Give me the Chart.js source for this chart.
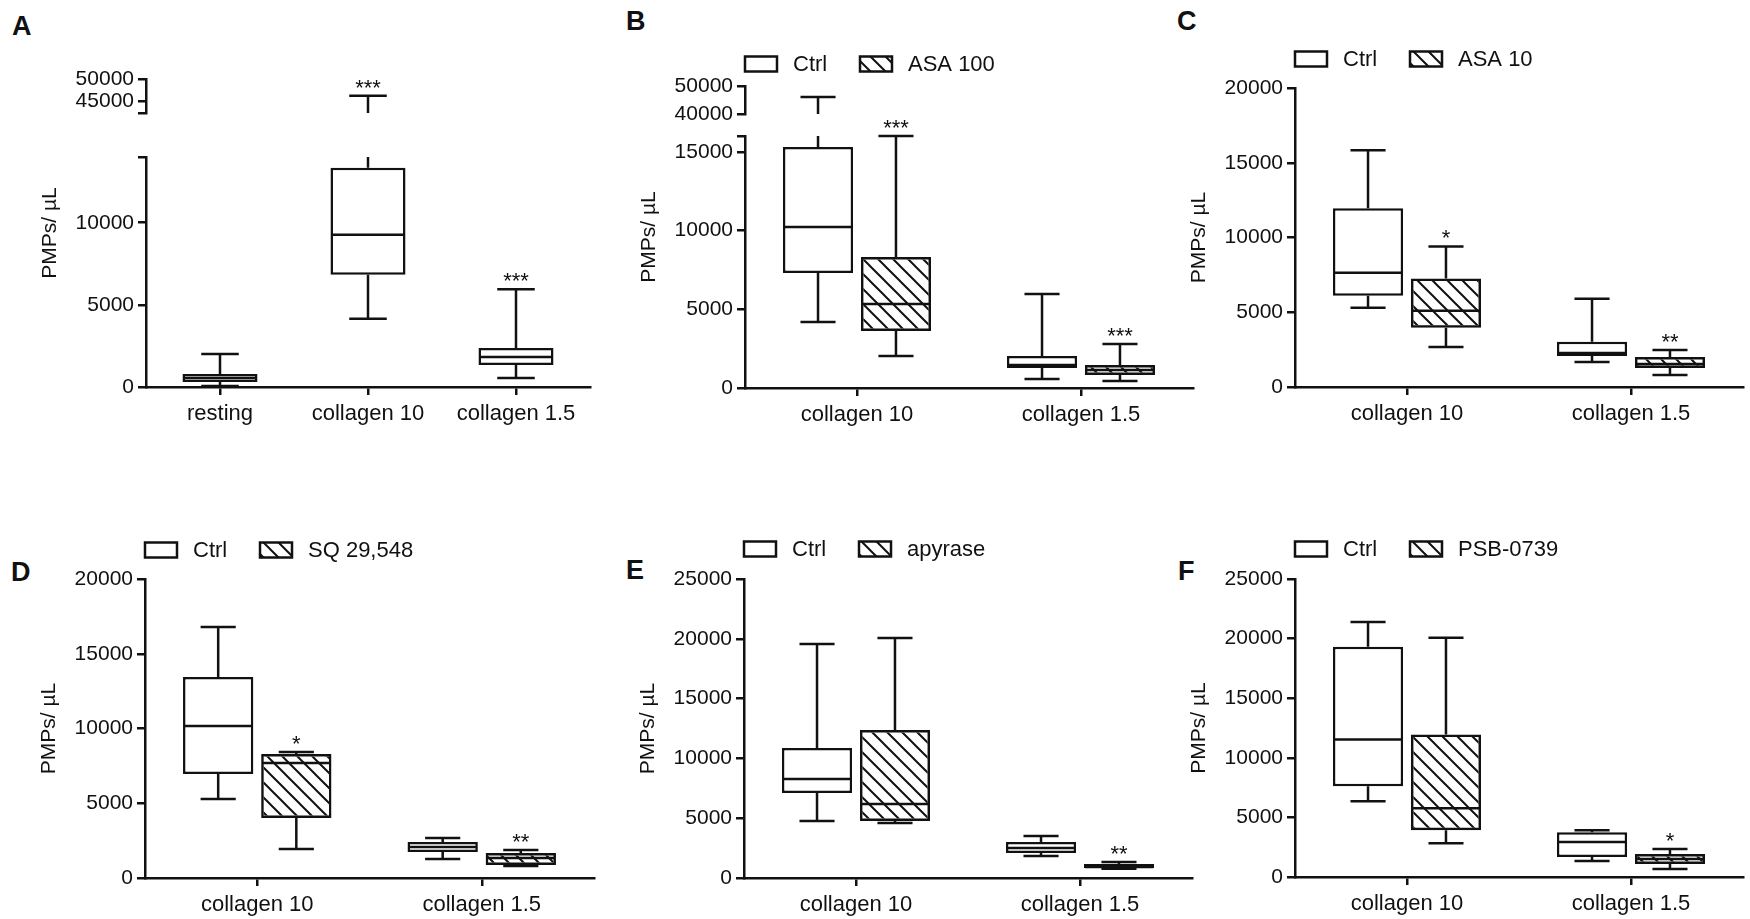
<!DOCTYPE html>
<html><head><meta charset="utf-8">
<script src="https://cdn.jsdelivr.net/npm/chart.js@4.4.1/dist/chart.umd.min.js"></script>
<style>
html,body{margin:0;padding:0;background:#fff;}
#page{position:relative;width:1750px;height:919px;overflow:hidden;background:#fff;}
#page canvas{position:absolute;}
.lbl{position:absolute;font-family:"Liberation Sans",Arial,sans-serif;font-weight:bold;font-size:27px;line-height:26px;color:#111;}
</style></head><body><div id="page">
<div class="lbl" style="left:12px;top:13px">A</div>
<div class="lbl" style="left:626px;top:8px">B</div>
<div class="lbl" style="left:1177px;top:8px">C</div>
<div class="lbl" style="left:11px;top:559px">D</div>
<div class="lbl" style="left:626px;top:557px">E</div>
<div class="lbl" style="left:1178px;top:558px">F</div>
<canvas id="cA"></canvas><canvas id="cB"></canvas><canvas id="cC"></canvas>
<canvas id="cD"></canvas><canvas id="cE"></canvas><canvas id="cF"></canvas>
</div>
<script>
// ---------------- DATA (each box: [min, q1, median, q3, max]) ----------------
const yTitle = 'PMPs/ µL';

const A_categories = ['resting', 'collagen 10', 'collagen 1.5'];
const A_ctrl = [[60, 300, 550, 790, 2010], [4150, 6830, 9270, 13350, 46300], [550, 1340, 1830, 2380, 5950]];
const A_ctrlStars = ['', '***', '***'];
const A_lowerTicks = [0, 5000, 10000, 14000];
const A_lowerLabels = [0, 5000, 10000];
const A_upperTicks = [42500, 45000, 50000];
const A_upperLabels = [45000, 50000];

const B_categories = ['collagen 10', 'collagen 1.5'];
const B_labels = ['Ctrl', 'ASA 100'];
const B_ctrl = [[4190, 7300, 10220, 15300, 46100], [570, 1270, 1460, 2030, 5970]];
const B_treat = [[2030, 3620, 5330, 8320, 16000], [440, 825, 1140, 1460, 2790]];
const B_ctrlStars = ['', ''];
const B_treatStars = ['***', '***'];
const B_lowerTicks = [0, 5000, 10000, 15000, 16000];
const B_lowerLabels = [0, 5000, 10000, 15000];
const B_upperTicks = [40000, 50000];
const B_upperLabels = [40000, 50000];

const C_categories = ['collagen 10', 'collagen 1.5'];
const C_labels = ['Ctrl', 'ASA 10'];
const C_ctrl = [[5300, 6110, 7650, 11950, 15840], [1680, 2080, 2280, 3020, 5900]];
const C_treat = [[2680, 3960, 5100, 7250, 9400], [800, 1270, 1540, 2010, 2480]];
const C_ctrlStars = ['', ''];
const C_treatStars = ['*', '**'];
const C_yTicks = [0, 5000, 10000, 15000, 20000];

const D_categories = ['collagen 10', 'collagen 1.5'];
const D_labels = ['Ctrl', 'SQ 29,548'];
const D_ctrl = [[5280, 6950, 10170, 13440, 16790], [1270, 1740, 2070, 2400, 2680]];
const D_treat = [[1940, 4010, 7690, 8290, 8430], [800, 870, 1340, 1670, 1870]];
const D_ctrlStars = ['', ''];
const D_treatStars = ['*', '**'];
const D_yTicks = [0, 5000, 10000, 15000, 20000];

const E_categories = ['collagen 10', 'collagen 1.5'];
const E_labels = ['Ctrl', 'apyrase'];
const E_ctrl = [[4770, 7110, 8280, 10870, 19570], [1840, 2090, 2510, 3010, 3510]];
const E_treat = [[4600, 4770, 6190, 12370, 20070], [770, 840, 920, 1170, 1340]];
const E_ctrlStars = ['', ''];
const E_treatStars = ['', '**'];
const E_yTicks = [0, 5000, 10000, 15000, 20000, 25000];

const F_categories = ['collagen 10', 'collagen 1.5'];
const F_labels = ['Ctrl', 'PSB-0739'];
const F_ctrl = [[6350, 7610, 11540, 19310, 21400], [1340, 1670, 2930, 3760, 3930]];
const F_treat = [[2840, 3930, 5770, 11960, 20070], [670, 1090, 1510, 1920, 2340]];
const F_ctrlStars = ['', ''];
const F_treatStars = ['', '*'];
const F_yTicks = [0, 5000, 10000, 15000, 20000, 25000];

// ---------------- STYLE ----------------
const FONT = '"Liberation Sans", Arial, Helvetica, sans-serif';
const INK = '#111';
const YW = 115, XH = 45, PR = 12;

function makeHatch() {
  const s = 15;
  const c = document.createElement('canvas'); c.width = s; c.height = s;
  const g = c.getContext('2d');
  g.strokeStyle = INK; g.lineWidth = 2;
  g.beginPath();
  g.moveTo(-2, -2); g.lineTo(s + 2, s + 2);
  g.moveTo(s - 3, -3); g.lineTo(s + 3, 3);
  g.moveTo(-3, s - 3); g.lineTo(3, s + 3);
  g.stroke();
  return g.createPattern(c, 'repeat');
}
const HATCH = makeHatch();

const boxPlugin = {
  id: 'boxWhiskers',
  afterDatasetsDraw(chart) {
    const ctx = chart.ctx, y = chart.scales.y, yUp = chart.scales.yUp;
    ctx.save();
    ctx.strokeStyle = INK; ctx.lineWidth = 2.5; ctx.lineCap = 'butt';
    chart.data.datasets.forEach((ds, di) => {
      const meta = chart.getDatasetMeta(di);
      meta.data.forEach((bar, i) => {
        const [mn, q1, md, q3, mx] = ds.stats[i];
        const p = bar.getProps(['x', 'width'], true);
        const x = p.x, w = p.width, cw = w * 0.5;
        const broken = yUp && mx > y.max;
        const hi = broken ? yUp.getPixelForValue(mx) : y.getPixelForValue(mx);
        const lo = y.getPixelForValue(mn);
        ctx.beginPath();
        const ym = y.getPixelForValue(md);
        ctx.moveTo(x - w / 2 + 1, ym); ctx.lineTo(x + w / 2 - 1, ym);
        ctx.moveTo(x, y.getPixelForValue(q1)); ctx.lineTo(x, lo);
        ctx.moveTo(x - cw / 2, lo); ctx.lineTo(x + cw / 2, lo);
        if (broken) {
          ctx.moveTo(x, y.getPixelForValue(q3)); ctx.lineTo(x, y.top);
          ctx.moveTo(x, yUp.bottom); ctx.lineTo(x, hi);
        } else {
          ctx.moveTo(x, y.getPixelForValue(q3)); ctx.lineTo(x, hi);
        }
        ctx.moveTo(x - cw / 2, hi); ctx.lineTo(x + cw / 2, hi);
        ctx.stroke();
        const star = ds.stars[i];
        if (star) {
          ctx.fillStyle = INK; ctx.font = '22px ' + FONT;
          ctx.textAlign = 'center'; ctx.textBaseline = 'alphabetic';
          ctx.fillText(star, x, hi - 1);
        }
      });
    });
    ctx.restore();
  }
};

const decoPlugin = {
  id: 'deco',
  afterDraw(chart, args, opts) {
    const ctx = chart.ctx, a = chart.chartArea;
    ctx.save();
    ctx.fillStyle = INK; ctx.font = '21px ' + FONT;
    ctx.translate(a.left - 96, (a.top + a.bottom) / 2);
    ctx.rotate(-Math.PI / 2);
    ctx.textAlign = 'center'; ctx.textBaseline = 'middle';
    ctx.fillText(yTitle, 0, 0);
    ctx.restore();
    if (opts.legend) {
      ctx.save();
      const cy = a.top - opts.legendDy;
      chart.data.datasets.forEach((ds, i) => {
        const bx = a.left + i * 115;
        ctx.fillStyle = ds.backgroundColor;
        ctx.fillRect(bx, cy - 7.5, 32, 15);
        ctx.strokeStyle = INK; ctx.lineWidth = 2.5;
        ctx.strokeRect(bx, cy - 7.5, 32, 15);
        ctx.fillStyle = INK; ctx.font = '22px ' + FONT;
        ctx.textAlign = 'left'; ctx.textBaseline = 'middle';
        ctx.fillText(ds.label, bx + 48, cy + 1);
      });
      ctx.restore();
    }
  }
};

function yScale(min, max, ticks, labels, extra) {
  return Object.assign({
    type: 'linear', position: 'left', min: min, max: max,
    afterFit: s => { s.width = YW; },
    afterBuildTicks: s => { s.ticks = ticks.map(v => ({ value: v })); },
    grid: { display: true, drawOnChartArea: false, drawTicks: true, tickLength: 8, color: INK, lineWidth: 2.5 },
    border: { display: true, color: INK, width: 2.5 },
    ticks: { color: INK, font: { family: FONT, size: 21 }, padding: 4, autoSkip: false,
             callback: v => (labels.includes(v) ? String(v) : '') }
  }, extra || {});
}

function makePanel(cfg) {
  const cv = document.getElementById(cfg.el);
  const W = YW + (cfg.axisEnd - cfg.axisX) + PR;
  const H = cfg.padTop + (cfg.bottom - cfg.top) + XH;
  cv.width = W; cv.height = H;
  cv.style.width = W + 'px'; cv.style.height = H + 'px';
  cv.style.left = (cfg.axisX - YW) + 'px';
  cv.style.top = (cfg.top - cfg.padTop) + 'px';

  const datasets = cfg.series.map(s => ({
    label: s.label,
    data: s.stats.map(b => [b[1], b[3]]),
    stats: s.stats, stars: s.stars,
    backgroundColor: s.hatch ? HATCH : '#ffffff',
    borderColor: INK, borderWidth: 2.5, borderSkipped: false,
    categoryPercentage: cfg.catPct, barPercentage: cfg.barPct,
    yAxisID: 'y'
  }));

  const scales = {
    x: {
      type: 'category', offset: true,
      afterFit: s => { s.height = XH; },
      grid: { display: true, offset: false, drawOnChartArea: false, drawTicks: true, tickLength: 8, color: INK, lineWidth: 2.5 },
      border: { display: true, color: INK, width: 2.5 },
      ticks: { color: INK, font: { family: FONT, size: 22 }, padding: 6, maxRotation: 0, autoSkip: false }
    }
  };
  if (cfg.broken) {
    const b = cfg.broken;
    scales.y = yScale(b.lower[0], b.lower[1], b.lowerTicks, b.lowerLabels, { stack: 'ax', stackWeight: b.lowerPx });
    scales.yGap = {
      type: 'linear', position: 'left', min: 0, max: 1, stack: 'ax', stackWeight: b.gapPx,
      afterFit: s => { s.width = YW; },
      grid: { display: false }, border: { display: false }, ticks: { display: false }
    };
    scales.yUp = yScale(b.upper[0], b.upper[1], b.upperTicks, b.upperLabels, { stack: 'ax', stackWeight: b.upperPx });
  } else {
    scales.y = yScale(0, cfg.yMax, cfg.yTicks, cfg.yTicks);
  }

  new Chart(cv, {
    type: 'bar',
    data: { labels: cfg.categories, datasets: datasets },
    options: {
      responsive: false, animation: false, devicePixelRatio: 1,
      layout: { padding: { top: cfg.padTop, right: PR, bottom: 0, left: 0 } },
      plugins: {
        legend: { display: false }, tooltip: { enabled: false },
        deco: { legend: cfg.legend, legendDy: cfg.legendDy }
      },
      scales: scales
    },
    plugins: [boxPlugin, decoPlugin]
  });
}

function two(labels, c, t, cs, ts) {
  return [
    { label: labels[0], stats: c, stars: cs, hatch: false },
    { label: labels[1], stats: t, stars: ts, hatch: true }
  ];
}

makePanel({ el: 'cA', axisX: 146, axisEnd: 590, top: 79, bottom: 387, padTop: 40,
  categories: A_categories, series: [{ label: 'Ctrl', stats: A_ctrl, stars: A_ctrlStars, hatch: false }],
  broken: { lower: [0, 14000], lowerPx: 230, gapPx: 44, upper: [42500, 50000], upperPx: 34,
    lowerTicks: A_lowerTicks, lowerLabels: A_lowerLabels, upperTicks: A_upperTicks, upperLabels: A_upperLabels },
  legend: false, catPct: 1, barPct: 0.507 });

makePanel({ el: 'cB', axisX: 745, axisEnd: 1193, top: 86, bottom: 388, padTop: 60,
  categories: B_categories, series: two(B_labels, B_ctrl, B_treat, B_ctrlStars, B_treatStars),
  broken: { lower: [0, 16000], lowerPx: 252, gapPx: 22, upper: [40000, 50000], upperPx: 28,
    lowerTicks: B_lowerTicks, lowerLabels: B_lowerLabels, upperTicks: B_upperTicks, upperLabels: B_upperLabels },
  legend: true, legendDy: 22, catPct: 0.696, barPct: 0.9 });

makePanel({ el: 'cC', axisX: 1295, axisEnd: 1743, top: 88, bottom: 387, padTop: 60,
  categories: C_categories, series: two(C_labels, C_ctrl, C_treat, C_ctrlStars, C_treatStars),
  yMax: 20000, yTicks: C_yTicks, legend: true, legendDy: 29, catPct: 0.696, barPct: 0.9 });

makePanel({ el: 'cD', axisX: 145, axisEnd: 594, top: 579, bottom: 878, padTop: 60,
  categories: D_categories, series: two(D_labels, D_ctrl, D_treat, D_ctrlStars, D_treatStars),
  yMax: 20000, yTicks: D_yTicks, legend: true, legendDy: 29, catPct: 0.696, barPct: 0.9 });

makePanel({ el: 'cE', axisX: 744, axisEnd: 1192, top: 579, bottom: 878, padTop: 60,
  categories: E_categories, series: two(E_labels, E_ctrl, E_treat, E_ctrlStars, E_treatStars),
  yMax: 25000, yTicks: E_yTicks, legend: true, legendDy: 30, catPct: 0.696, barPct: 0.9 });

makePanel({ el: 'cF', axisX: 1295, axisEnd: 1743, top: 579, bottom: 877, padTop: 60,
  categories: F_categories, series: two(F_labels, F_ctrl, F_treat, F_ctrlStars, F_treatStars),
  yMax: 25000, yTicks: F_yTicks, legend: true, legendDy: 30, catPct: 0.696, barPct: 0.9 });
</script>
</body></html>
